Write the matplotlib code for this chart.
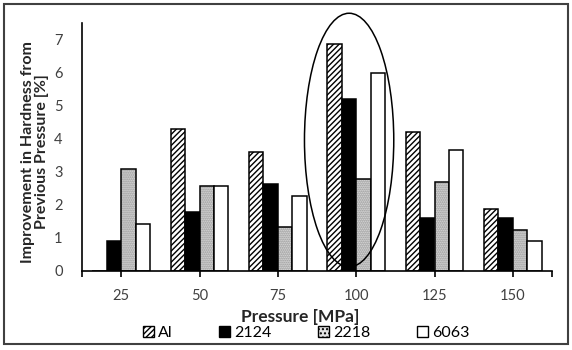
import numpy as np
import matplotlib
matplotlib.use('Agg')
import matplotlib.pyplot as plt
from matplotlib.patches import Ellipse, Rectangle, Patch

# 数据
pressure = ['25', '50', '75', '100', '125', '150']
al = [0, 4.3, 3.6, 6.87, 4.2, 1.87]
a2124 = [0.9, 1.79, 2.64, 5.2, 1.61, 1.6]
a2218 = [3.08, 2.56, 1.33, 2.78, 2.7, 1.24]
a6063 = [1.42, 2.56, 2.27, 6.0, 3.66, 0.9]

plt.rcParams['font.family'] = ['Lato', 'DejaVu Sans']
plt.rcParams['hatch.linewidth'] = 1.0

fig = plt.figure(figsize=(5.72, 3.5), dpi=100)
ax = fig.add_axes([82/572, 1-271/350, 470/572, 248/350])

x = np.arange(len(pressure))
w = 0.185
ax.bar(x - 1.5*w, al, w, color='white', edgecolor='black', hatch='//////', linewidth=1.1)
ax.bar(x - 0.5*w, a2124, w, color='black', edgecolor='black', linewidth=1.1)
# 2218: 灰色点状填充, 黑色边框
ax.bar(x + 0.5*w, a2218, w, color='#e4e4e4', edgecolor='#8a8a8a', hatch='........', linewidth=0)
ax.bar(x + 0.5*w, a2218, w, color='none', edgecolor='black', linewidth=1.1)
ax.bar(x + 1.5*w, a6063, w, color='white', edgecolor='black', linewidth=1.1)

ax.set_xlim(-0.5, 5.5)
ax.set_ylim(0, 7.5)
ax.set_xticks(x)
ax.set_xticklabels(pressure)
ax.set_yticks(range(8))
for s in ['top', 'right']:
    ax.spines[s].set_visible(False)
ax.spines['left'].set_linewidth(1.2)
ax.spines['bottom'].set_linewidth(1.2)
ax.tick_params(axis='y', length=0, pad=14, labelsize=10.5, labelcolor='#404040')
ax.tick_params(axis='x', length=4, width=1.2, direction='out', pad=9, labelsize=10.5, labelcolor='#404040')
ax.set_xticks([-0.5, 5.5], minor=True)
ax.tick_params(axis='x', which='minor', length=4, width=1.2)

ax.set_xlabel('Pressure [MPa]', fontsize=12.5, fontweight='bold', color='#262626')
ax.xaxis.set_label_coords(0.464, -0.155)
ax.set_ylabel('Improvement in Hardness from\nPrevious Pressure [%]', fontsize=11.5,
              fontweight='bold', color='#262626', linespacing=1.0)
ax.yaxis.set_label_coords(-0.07, 0.48)

# 椭圆
el = Ellipse((2.91, 3.96), 1.14, 7.67, facecolor='none', edgecolor='black', linewidth=1.1, clip_on=False)
ax.add_patch(el)

# 图例
handles = [Patch(facecolor='white', edgecolor='black', hatch='//////'),
           Patch(facecolor='black', edgecolor='black'),
           Patch(facecolor='#e4e4e4', edgecolor='black', hatch='....'),
           Patch(facecolor='white', edgecolor='black')]
fig.legend(handles, ['Al', '2124', '2218', '6063'], loc='center', bbox_to_anchor=(0.535, 1-333/350),
           ncol=4, frameon=False, handlelength=0.7, handleheight=0.7, handletextpad=0.25,
           columnspacing=2.9, fontsize=11.5)

# 外框
fig.patches.append(Rectangle((4/572, 6/350), 564/572, 340/350, transform=fig.transFigure,
                             facecolor='none', edgecolor='#404040', linewidth=1.5))

plt.savefig('out.png', dpi=100)
